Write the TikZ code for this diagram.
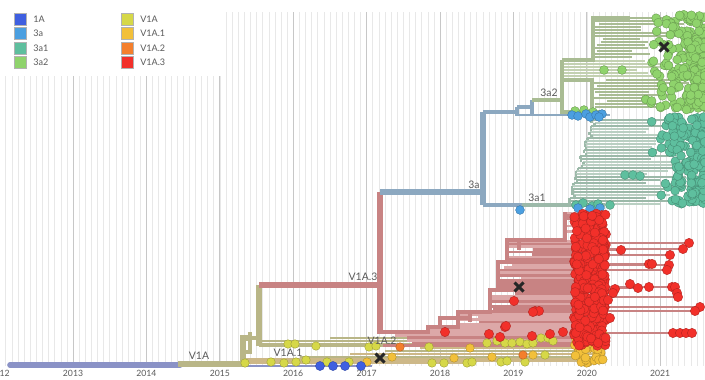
\documentclass[tikz,border=0pt]{standalone}
\usepackage{fontspec}
\setmainfont{Lato}
\definecolor{c1A}{HTML}{3F5FE0}
\definecolor{c3a}{HTML}{4B9FE0}
\definecolor{c3a1}{HTML}{5EBF9E}
\definecolor{c3a2}{HTML}{8FD36C}
\definecolor{cV1A}{HTML}{D6D848}
\definecolor{cV1A1}{HTML}{F2C03A}
\definecolor{cV1A2}{HTML}{F47F2C}
\definecolor{cV1A3}{HTML}{F2302A}
\definecolor{bRoot}{HTML}{8A92C6}
\definecolor{bV1A}{HTML}{B9B687}
\definecolor{bV1A1}{HTML}{CDB888}
\definecolor{bV1A3}{HTML}{C88383}
\definecolor{bV1A3l}{HTML}{DCA8A8}
\definecolor{b3a}{HTML}{8CA8C0}
\definecolor{b3a1}{HTML}{9CB9A9}
\definecolor{b3a1l}{HTML}{B9CFC2}
\definecolor{b3a2}{HTML}{A9BC93}
\definecolor{b3a2l}{HTML}{C3D1B1}
\definecolor{txtgray}{HTML}{5A5A5A}
\tikzset{
  gridm/.style={draw=black!9, line width=0.35pt},
  gridy/.style={draw=black!22, line width=0.5pt},
  legsq/.style={minimum size=9pt, inner sep=0pt, draw=white!70!black, line width=0.3pt},
  legtxt/.style={anchor=west, font=\fontsize{6.8}{8}\selectfont, text=txtgray, inner sep=0pt},
  yeartxt/.style={font=\fontsize{6.5}{8}\selectfont, text=txtgray, inner sep=0pt},
  lbl/.style={font=\fontsize{7.8}{9}\selectfont, text=txtgray, inner sep=0.5pt},
  thick br/.style={line width=4.2pt},
  mid br/.style={line width=2.8pt},
  lad/.style={line width=2pt},
  xmark/.style={draw=black!85, line width=2.2pt},
  rdot/.style={fill=cV1A3, draw=cV1A3!75!black, line width=0.3pt},
  gdot/.style={fill=c3a2, draw=c3a2!75!black, line width=0.3pt},
  tdot/.style={fill=c3a1, draw=c3a1!75!black, line width=0.3pt},
  bdot/.style={fill=c3a, draw=c3a!75!black, line width=0.3pt},
  adot/.style={fill=c1A, draw=c1A!75!black, line width=0.3pt},
  ydot/.style={fill=cV1A, draw=cV1A!75!black, line width=0.3pt},
  odot/.style={fill=cV1A1, draw=cV1A1!75!black, line width=0.3pt},
  ddot/.style={fill=cV1A2, draw=cV1A2!75!black, line width=0.3pt},
}
\begin{document}
\begin{tikzpicture}[x=0.75pt,y=-0.75pt]
\useasboundingbox (0,0) rectangle (705,379);
\fill[white] (0,0) rectangle (705,379);
\pgfmathsetseed{12}
% grid
\foreach \k in {-12,...,108} {\draw[gridm] ({73+73.4*\k/12},12) -- ({73+73.4*\k/12},366);}
\foreach \k in {-1,...,8} {\draw[gridy] ({73+73.4*\k},12) -- ({73+73.4*\k},366);}
\fill[white] (0,0) rectangle (221,76);
% year labels
\foreach \k/\yr in {-1/2012,0/2013,1/2014,2/2015,3/2016,4/2017,5/2018,6/2019,7/2020,8/2021} {
  \node[yeartxt] (y\yr) at ({73+73.4*\k},373) {\yr};
}
% legend
\foreach \i/\c/\t in {1/c1A/1A,2/c3a/3a,3/c3a1/3a1,4/c3a2/3a2} {
  \node[legsq, fill=\c] (lsqa\i) at (20,{19+14.4*(\i-1)}) {};
  \node[legtxt] (ltxa\i) at (33,{19+14.4*(\i-1)}) {\t};
}
\foreach \i/\c/\t in {1/cV1A/V1A,2/cV1A1/V1A.1,3/cV1A2/V1A.2,4/cV1A3/V1A.3} {
  \node[legsq, fill=\c] (lsqb\i) at (127,{19+14.4*(\i-1)}) {};
  \node[legtxt] (ltxb\i) at (140,{19+14.4*(\i-1)}) {\t};
}
% ---------- root and V1A ----------
\draw[bRoot, line width=1.5pt] (178,366) -- (372,366);
\draw[bRoot, thick br, line cap=round] (10,365) -- (180,365);
% lower khaki / tan clade
\foreach \yy/\xa/\xb/\c/\w in {
  363/245/470/bV1A1/1.8, 360/245/600/bV1A1/2.6, 357/300/600/bV1A/2.0, 354/350/600/bV1A1/2.2,
  351/385/595/bV1A/2.0, 348/420/600/bV1A1/2.0, 345/259/600/bV1A/3.4, 341/259/565/bV1A/2.2,
  338/330/560/bV1A/2.0} {
  \draw[\c, line width=\w pt] (\xa,\yy) -- (\xb,\yy);
}
\draw[bV1A, thick br] (178,364) -- (243,364) -- (243,338) -- (252,338);
\draw[bV1A, mid br] (243,352) -- (250,352) -- (250,332);
\draw[bV1A, thick br] (259,346) -- (259,285);
\draw[bV1A, mid br] (252,338) -- (259,338);
% ---------- V1A.3 clade ----------
\foreach \yy in {213,215.6,...,346} {
  \pgfmathsetmacro\xl{\yy<240 ? 565 : (\yy<262 ? 507 : (\yy<290 ? 498 : (\yy<312 ? 490 : (\yy<327 ? 458 : (\yy<332 ? 428 : 383)))))}
  \pgfmathsetmacro\xs{\xl + (rnd<0.5 ? 0 : 30*rnd)}
  \pgfmathsetmacro\xe{578+24*rnd}
  \pgfmathsetmacro\cc{rnd<0.5 ? 1 : 0}
  \ifdim\cc pt>0.5pt
    \draw[bV1A3, lad] (\xs,\yy) -- (\xe,\yy);
  \else
    \draw[bV1A3l, lad] (\xs,\yy) -- (\xe,\yy);
  \fi
}
\draw[bV1A3, mid br] (565,212) -- (565,240) -- (507,240) -- (507,262) -- (498,262) -- (498,290) -- (490,290) -- (490,312) -- (458,312) -- (458,327) -- (428,327) -- (428,332) -- (383,332);
\draw[bV1A3, mid br] (519,240) -- (519,250) (470,312) -- (470,322) (440,327) -- (440,318) -- (470,318);
\foreach \xx/\yy in {689/243,683/249,621/250,670/255,652/264,669/265,667/270,638/288,675/287,678/297,615/289,700/307,695/311,692/333,699/307} {
  \draw[bV1A3, line width=1.2pt] (590,\yy) -- (\xx,\yy);
}
\draw[bV1A3, thick br] (259,285) -- (380,285);
\draw[bV1A3, thick br] (380,192) -- (380,334);
% ---------- 3a ----------
\draw[b3a, thick br] (380,192) -- (483,192);
\draw[b3a, thick br] (483,112) -- (483,205);
\draw[b3a, mid br] (483,112) -- (517,112) (517,107) -- (517,116) (517,107) -- (532,107) (532,100) -- (532,116);
\draw[b3a, line width=1.6pt] (517,115) -- (610,115);
\draw[b3a, mid br] (483,205) -- (522,205);
% ---------- 3a2 clade ----------
\foreach \yy in {18,21,...,57} {
  \pgfmathsetmacro\xe{625+60*rnd}
  \pgfmathsetmacro\xs{593+12*rnd*rnd}
  \draw[b3a2, lad] (\xs,\yy) -- (\xe,\yy);
}
\foreach \yy in {61,64,...,76} {
  \pgfmathsetmacro\xe{630+50*rnd}
  \draw[b3a2l, lad] (562,\yy) -- (\xe,\yy);
}
\foreach \yy in {80,83,...,108} {
  \pgfmathsetmacro\xe{640+50*rnd}
  \pgfmathsetmacro\xs{592+20*rnd*rnd}
  \draw[b3a2, lad] (\xs,\yy) -- (\xe,\yy);
}
\draw[b3a2, mid br] (532,100) -- (562,100);
\draw[b3a2, mid br] (562,60) -- (562,112) -- (605,112);
\draw[b3a2, mid br] (562,60) -- (593,60) -- (593,18) -- (630,18);
\draw[b3a2, mid br] (562,80) -- (592,80) -- (592,108);
% ---------- 3a1 clade ----------
\foreach \yy in {120,123,...,204} {
  \pgfmathsetmacro\xl{567+23*(205-\yy)/87 + 6*rnd}
  \pgfmathsetmacro\xe{640+55*rnd}
  \pgfmathsetmacro\cc{rnd<0.5 ? 1 : 0}
  \ifdim\cc pt>0.5pt
    \draw[b3a1, lad] (\xl,\yy) -- (\xe,\yy);
  \else
    \draw[b3a1l, lad] (\xl,\yy) -- (\xe,\yy);
  \fi
  \draw[b3a1, lad] (\xl,\yy) -- (\xl,{\yy+3.2});
}
\draw[b3a1, mid br] (522,205) -- (605,205);
% ---------- dots ----------
% 3a2 green
\foreach \i in {1,...,230} {
  \pgfmathsetmacro\py{14+97*rnd}
  \pgfmathsetmacro\px{705-62*rnd*rnd}
  \filldraw[gdot] (\px,\py) circle[radius=3.3pt];
}
\foreach \xx/\yy in {604/70,622/70,575/111,584/110,593/112} {\filldraw[gdot] (\xx,\yy) circle[radius=3.3pt];}
\foreach \xx/\yy in {572/115,578/116,586/114,590/117,596/115,602/114,599/117} {\filldraw[bdot] (\xx,\yy) circle[radius=3.3pt];}
% 3a1 teal
\foreach \i in {1,...,200} {
  \pgfmathsetmacro\py{116+88*rnd}
  \pgfmathsetmacro\px{705-58*rnd*rnd}
  \filldraw[tdot] (\px,\py) circle[radius=3.3pt];
}
\foreach \xx/\yy in {625/175,633/175,640/176,576/205,583/203,592/206,598/204,610/205} {\filldraw[tdot] (\xx,\yy) circle[radius=3.3pt];}
\foreach \xx/\yy in {520/210,578/208,590/209,600/208} {\filldraw[bdot] (\xx,\yy) circle[radius=3.3pt];}
% lower yellow/orange cluster
\foreach \i in {1,...,55} {
  \pgfmathsetmacro\py{335+28*rnd}
  \pgfmathsetmacro\px{574+32*rnd}
  \filldraw[odot] (\px,\py) circle[radius=3.3pt];
}
\foreach \xx/\yy in {245/363,271/362,284/363,296/362,306/360,327/362,349/362,288/344,295/344,316/346,369/347,376/346,429/347,432/363,444/363,467/363,472/362,487/343,497/341,505/343,512/343,520/342,527/344,533/343,541/338,548/338,553/341,501/362,507/361,525/362,545/355,578/336,586/334,592/335} {
  \filldraw[ydot] (\xx,\yy) circle[radius=3.2pt];
}
\foreach \xx/\yy in {367/362,392/357,454/358,492/357,533/355,470/348} {\filldraw[odot] (\xx,\yy) circle[radius=3.2pt];}
\foreach \xx/\yy in {400/347,523/355} {\filldraw[ddot] (\xx,\yy) circle[radius=3.2pt];}
% red column
\foreach \i in {1,...,330} {
  \pgfmathsetmacro\py{213+133*rnd}
  \pgfmathsetmacro\px{574+32*rnd}
  \filldraw[rdot] (\px,\py) circle[radius=3.5pt];
}
\foreach \xx/\yy in {689/243,683/249,621/250,670/255,649/264,652/264,669/265,667/270,630/284,638/288,649/287,672/287,675/287,677/293,678/297,615/289,613/293,700/307,695/311,673/333,680/333,686/333,692/333,514/301,535/311,539/311,505/327,489/334,500/337,532/336,550/334,563/332,445/332,506/326,533/312,610/318,608/300} {
  \filldraw[rdot] (\xx,\yy) circle[radius=3.5pt];
}
% 1A blue
\foreach \xx in {320,333,345,361} {\filldraw[adot] (\xx,366) circle[radius=3.4pt];}
% crosses
\foreach \xx/\yy in {664/47,519/287,380/358} {
  \draw[xmark] (\xx-4.5,\yy-4.5) -- (\xx+4.5,\yy+4.5) (\xx-4.5,\yy+4.5) -- (\xx+4.5,\yy-4.5);
}
% clade labels
\node[lbl] (lV1A) at (199,356) {V1A};
\node[lbl] (lV1A1) at (288,353) {V1A.1};
\node[lbl] (lV1A2) at (382,341) {V1A.2};
\node[lbl] (lV1A3) at (363,277) {V1A.3};
\node[lbl] (l3a) at (474,185) {3a};
\node[lbl] (l3a1) at (537,198) {3a1};
\node[lbl] (l3a2) at (549,93) {3a2};
\end{tikzpicture}
\end{document}
